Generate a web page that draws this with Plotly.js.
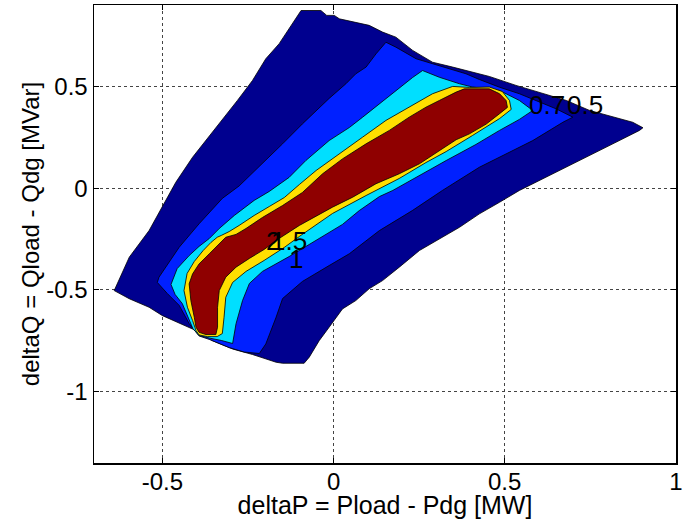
<!DOCTYPE html>
<html><head><meta charset="utf-8">
<script src="https://cdn.plot.ly/plotly-3.0.1.min.js"></script>
<style>html,body{margin:0;padding:0;background:#fff}#chart{width:691px;height:519px}</style>
</head><body><div id="chart"></div><script>
// Contour levels of the filled contour plot
const levels = [0.5, 0.7, 1, 1.5, 2];

// Contour outlines (deltaP, deltaQ), one closed outline per level
const level05X = [-0.095,-0.037,-0.020,0.002,0.017,0.065,0.104,0.143,0.182,0.231,0.289,0.348,0.406,0.455,0.533,0.601,0.680,0.748,0.816,0.874,0.904,0.894,0.816,0.718,0.621,0.543,0.485,0.426,0.368,0.309,0.251,0.192,0.143,0.104,0.065,0.026,0.007,-0.013,-0.042,-0.071,-0.086,-0.149,-0.168,-0.237,-0.295,-0.354,-0.412,-0.500,-0.539,-0.597,-0.641,-0.597,-0.539,-0.490,-0.461,-0.412,-0.373,-0.325,-0.281,-0.237,-0.198,-0.159,-0.130];
const level05Y = [0.873,0.873,0.849,0.849,0.832,0.816,0.800,0.767,0.742,0.677,0.619,0.595,0.570,0.549,0.505,0.472,0.431,0.382,0.349,0.324,0.297,0.284,0.218,0.136,0.054,-0.011,-0.069,-0.126,-0.192,-0.249,-0.306,-0.388,-0.454,-0.494,-0.552,-0.593,-0.634,-0.683,-0.749,-0.830,-0.860,-0.860,-0.855,-0.817,-0.790,-0.749,-0.692,-0.626,-0.585,-0.543,-0.503,-0.339,-0.208,-0.060,0.029,0.152,0.234,0.333,0.431,0.529,0.636,0.710,0.783];

const level07X = [0.153,0.182,0.241,0.309,0.387,0.426,0.485,0.543,0.601,0.650,0.699,0.670,0.582,0.504,0.426,0.318,0.230,0.134,0.046,-0.013,-0.091,-0.149,-0.168,-0.198,-0.217,-0.261,-0.305,-0.363,-0.393,-0.422,-0.451,-0.486,-0.515,-0.510,-0.451,-0.393,-0.325,-0.276,-0.208,-0.149,-0.091,-0.013,0.036,0.065,0.095,0.124];
const level07Y = [0.717,0.693,0.636,0.603,0.562,0.534,0.496,0.464,0.423,0.390,0.349,0.324,0.234,0.169,0.103,-0.011,-0.110,-0.208,-0.322,-0.380,-0.458,-0.542,-0.634,-0.765,-0.812,-0.805,-0.783,-0.743,-0.726,-0.665,-0.576,-0.517,-0.463,-0.437,-0.290,-0.175,-0.050,0.011,0.120,0.218,0.316,0.441,0.513,0.562,0.595,0.660];

const level1X = [0.260,0.309,0.368,0.406,0.485,0.543,0.582,0.543,0.485,0.416,0.329,0.251,0.173,0.134,0.075,0.026,-0.051,-0.130,-0.208,-0.246,-0.266,-0.285,-0.295,-0.328,-0.363,-0.393,-0.411,-0.425,-0.442,-0.463,-0.475,-0.457,-0.422,-0.393,-0.363,-0.334,-0.290,-0.232,-0.188,-0.130,-0.081,-0.013,0.046,0.085,0.134,0.182,0.231];
const level1Y = [0.578,0.545,0.513,0.497,0.480,0.431,0.382,0.338,0.284,0.215,0.136,0.062,-0.011,-0.041,-0.110,-0.178,-0.257,-0.336,-0.409,-0.468,-0.552,-0.666,-0.763,-0.748,-0.736,-0.724,-0.690,-0.630,-0.567,-0.522,-0.473,-0.395,-0.331,-0.286,-0.247,-0.198,-0.134,-0.060,-0.016,0.053,0.136,0.234,0.298,0.349,0.415,0.480,0.544];

const level15X = [0.519,0.514,0.493,0.455,0.397,0.348,0.289,0.221,0.153,0.085,0.017,-0.051,-0.100,-0.144,-0.188,-0.232,-0.276,-0.305,-0.328,-0.340,-0.358,-0.381,-0.407,-0.428,-0.437,-0.427,-0.412,-0.402,-0.393,-0.369,-0.340,-0.325,-0.320,-0.315,-0.295,-0.256,-0.203,-0.144,-0.100,-0.003,0.095,0.192,0.270,0.329,0.406,0.485];
const level15Y = [0.387,0.431,0.475,0.497,0.495,0.500,0.464,0.398,0.333,0.251,0.169,0.087,0.018,-0.046,-0.090,-0.134,-0.183,-0.213,-0.232,-0.241,-0.266,-0.306,-0.360,-0.419,-0.503,-0.585,-0.650,-0.699,-0.721,-0.729,-0.729,-0.714,-0.634,-0.536,-0.463,-0.409,-0.355,-0.291,-0.237,-0.124,-0.036,0.048,0.126,0.180,0.259,0.342];

const level2X = [0.508,0.504,0.485,0.455,0.382,0.358,0.309,0.270,0.221,0.163,0.095,0.026,-0.032,-0.091,-0.149,-0.208,-0.256,-0.285,-0.315,-0.325,-0.334,-0.363,-0.393,-0.412,-0.422,-0.417,-0.407,-0.402,-0.393,-0.373,-0.344,-0.339,-0.339,-0.334,-0.315,-0.285,-0.246,-0.203,-0.159,-0.100,-0.003,0.056,0.124,0.192,0.251,0.319,0.358,0.397,0.446,0.485];
const level2Y = [0.397,0.431,0.464,0.488,0.488,0.472,0.431,0.398,0.349,0.284,0.218,0.144,0.071,-0.021,-0.085,-0.144,-0.198,-0.227,-0.241,-0.257,-0.273,-0.322,-0.372,-0.421,-0.470,-0.552,-0.634,-0.683,-0.708,-0.719,-0.719,-0.683,-0.585,-0.503,-0.437,-0.388,-0.345,-0.301,-0.247,-0.183,-0.093,-0.044,0.022,0.071,0.120,0.194,0.238,0.267,0.315,0.366];

// Contour labels (clabel text)
const labelText = ['2', '1.5', '1', '0.7', '0.5'];
const labelX = [-0.176, -0.130, -0.109, 0.625, 0.736];
const labelY = [-0.257, -0.257, -0.350, 0.411, 0.411];

// Tick labels
const xTickVals = [-0.5, 0, 0.5, 1];
const xTickText = ['-0.5', '0', '0.5', '1'];
const yTickVals = [-1, -0.5, 0, 0.5];
const yTickText = ['-1', '-0.5', '0', '0.5'];

const outlinesX = [level05X, level07X, level1X, level15X, level2X];
const outlinesY = [level05Y, level07Y, level1Y, level15Y, level2Y];
const fillColors = ['#00008F', '#0020FF', '#00DFFF', '#FFDF00', '#8F0000'];

const traces = levels.map((lv, i) => ({
  type: 'scatter', mode: 'lines', name: String(lv),
  x: outlinesX[i].concat([outlinesX[i][0]]),
  y: outlinesY[i].concat([outlinesY[i][0]]),
  fill: 'toself', fillcolor: fillColors[i],
  line: {color: '#000', width: 0.8},
  hoverinfo: 'skip', showlegend: false
}));

const FONT = 'Liberation Sans, Arial, Helvetica, sans-serif';
const annotations = labelText.map((t, i) => ({
  x: labelX[i], y: labelY[i], xref: 'x', yref: 'y', text: t, showarrow: false,
  xanchor: 'center', yanchor: 'middle', font: {family: FONT, size: 26, color: '#000'}
}));

const axisCommon = {
  showline: true, linecolor: '#000', linewidth: 1.5, mirror: 'ticks',
  ticks: 'inside', ticklen: 5, tickcolor: '#000', tickwidth: 1,
  showgrid: true, gridcolor: '#444', gridwidth: 1, griddash: 'dot',
  zeroline: false, tickfont: {family: FONT, size: 24, color: '#000'}
};

const layout = {
  width: 691, height: 519,
  margin: {l: 94, r: 15, t: 5, b: 56},
  paper_bgcolor: '#fff', plot_bgcolor: '#fff',
  showlegend: false,
  xaxis: Object.assign({}, axisCommon, {
    range: [-0.7, 1.0005], tickmode: 'array', tickvals: xTickVals, ticktext: xTickText,
    ticklabelstandoff: -3,
    title: {text: 'deltaP = Pload - Pdg [MW]', font: {family: FONT, size: 25, color: '#000'}, standoff: 4}
  }),
  yaxis: Object.assign({}, axisCommon, {
    range: [-1.35, 0.9], tickmode: 'array', tickvals: yTickVals, ticktext: yTickText,
    title: {text: 'deltaQ = Qload - Qdg [MVar]', font: {family: FONT, size: 24, color: '#000'}, standoff: 0}
  }),
  annotations: annotations
};

Plotly.newPlot('chart', traces, layout, {displayModeBar: false, staticPlot: true});
</script></body></html>
